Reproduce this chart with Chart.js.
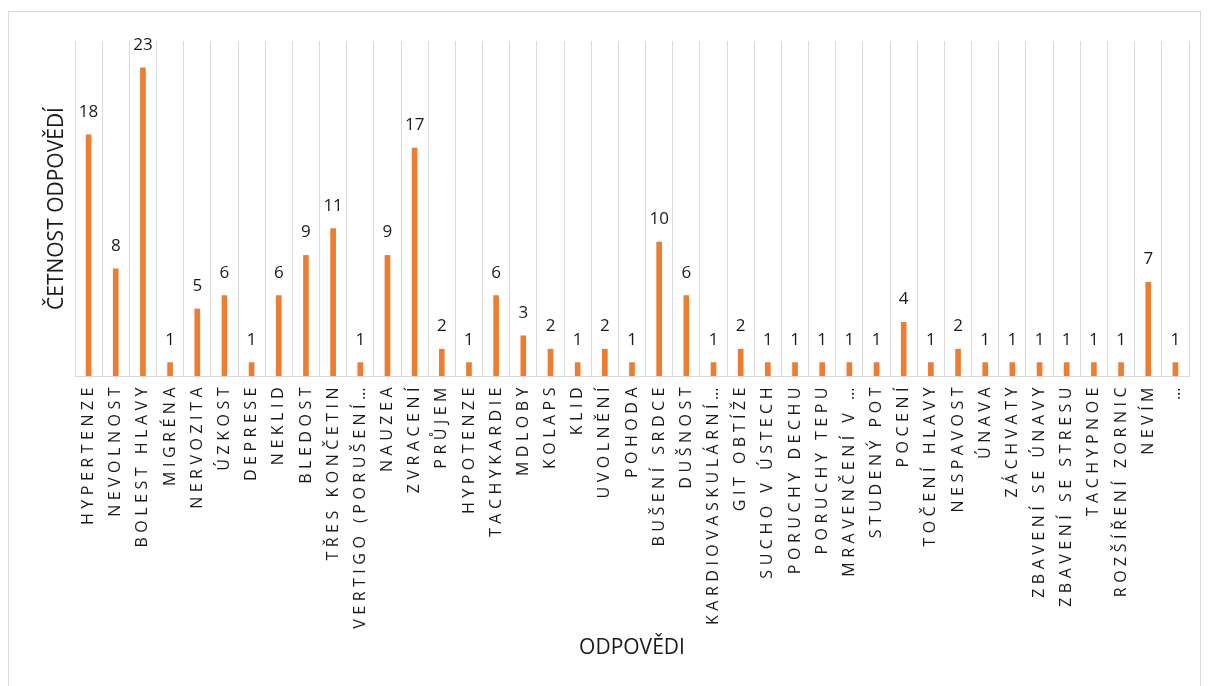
<!DOCTYPE html>
<html>
<head>
<meta charset="utf-8">
<script src="https://cdn.jsdelivr.net/npm/chart.js@4.4.1/dist/chart.umd.min.js"></script>
<style>
  body { margin: 0; background: #fff; }
  #frame { position: absolute; left: 8px; top: 11px; width: 1191px; height: 680px; border: 1px solid #d9d9d9; }
  #wrap { position: absolute; left: 0; top: 0; width: 1208px; height: 686px; }
</style>
</head>
<body>
<div id="frame"></div>
<div id="wrap"><canvas id="odpovedi-chart"></canvas></div>
<script>
// Categories (answers) and how many times each was given
const categories = [
  'HYPERTENZE', 'NEVOLNOST', 'BOLEST HLAVY', 'MIGRÉNA', 'NERVOZITA', 'ÚZKOST', 'DEPRESE',
  'NEKLID', 'BLEDOST', 'TŘES KONČETIN', 'VERTIGO (PORUŠENÍ…', 'NAUZEA', 'ZVRACENÍ', 'PRŮJEM',
  'HYPOTENZE', 'TACHYKARDIE', 'MDLOBY', 'KOLAPS', 'KLID', 'UVOLNĚNÍ', 'POHODA',
  'BUŠENÍ SRDCE', 'DUŠNOST', 'KARDIOVASKULÁRNÍ…', 'GIT OBTÍŽE', 'SUCHO V ÚSTECH', 'PORUCHY DECHU',
  'PORUCHY TEPU', 'MRAVENČENÍ V …', 'STUDENÝ POT', 'POCENÍ', 'TOČENÍ HLAVY', 'NESPAVOST',
  'ÚNAVA', 'ZÁCHVATY', 'ZBAVENÍ SE ÚNAVY', 'ZBAVENÍ SE STRESU', 'TACHYPNOE', 'ROZŠÍŘENÍ ZORNIC',
  'NEVÍM', '…'
];
const counts = [
  18, 8, 23, 1, 5, 6, 1,
  6, 9, 11, 1, 9, 17, 2,
  1, 6, 3, 2, 1, 2, 1,
  10, 6, 1, 2, 1, 1,
  1, 1, 1, 4, 1, 2,
  1, 1, 1, 1, 1, 1,
  7, 1
];
const yAxisTitle = 'ČETNOST ODPOVĚDÍ';
const xAxisTitle = 'ODPOVĚDI';

// Draw the number above every bar
const valueLabels = {
  id: 'valueLabels',
  afterDatasetsDraw(chart) {
    const ctx = chart.ctx;
    const meta = chart.getDatasetMeta(0);
    ctx.save();
    ctx.font = '17px "Open Sans"';
    ctx.fillStyle = '#1a1a1a';
    ctx.textAlign = 'center';
    ctx.textBaseline = 'alphabetic';
    meta.data.forEach((bar, i) => {
      ctx.fillText(counts[i], bar.x, bar.y - 18);
    });
    ctx.restore();
  }
};

// Letter-spaced category labels like in the original
const spacedTicks = {
  id: 'spacedTicks',
  afterUpdate(chart) {
    const s = chart.scales.x;
    if (s._spaced) return;
    const orig = s.drawLabels.bind(s);
    s.drawLabels = function (area) {
      const prev = this.ctx.letterSpacing;
      this.ctx.letterSpacing = '4.5px';
      orig(area);
      this.ctx.letterSpacing = prev;
    };
    s._spaced = true;
  }
};

const odpovediChart = document.getElementById('odpovedi-chart');
new Chart(odpovediChart, {
  type: 'bar',
  data: {
    labels: categories,
    datasets: [
      {
        label: 'Četnost',
        data: counts,
        backgroundColor: '#ed7d31',
        barThickness: 5,
      }
    ]
  },
  options: {
    responsive: true,
    maintainAspectRatio: false,
    animation: false,
    layout: {
      padding: { top: 41, right: 19, bottom: 25, left: 0 }
    },
    plugins: {
      legend: { display: false },
      tooltip: { enabled: false }
    },
    scales: {
      x: {
        grid: { color: '#d9d9d9', drawTicks: false, offset: true },
        border: { color: '#d9d9d9' },
        ticks: {
          autoSkip: false,
          maxRotation: 90,
          minRotation: 90,
          padding: 7,
          color: '#1a1a1a',
          font: { family: 'Open Sans', size: 16 }
        },
        title: {
          display: true,
          text: xAxisTitle,
          color: '#1a1a1a',
          padding: 0,
          font: { family: 'Open Sans', size: 21 }
        },
        afterFit(scale) { scale.height = 285; }
      },
      y: {
        min: 0,
        max: 25,
        grid: { display: false },
        border: { display: false },
        ticks: { display: false },
        title: {
          display: true,
          text: yAxisTitle,
          color: '#1a1a1a',
          padding: { top: 44, bottom: 0 },
          font: { family: 'Open Sans', size: 21 }
        },
        afterFit(scale) { scale.width = 75; }
      }
    }
  },
  plugins: [valueLabels, spacedTicks]
});
</script>
</body>
</html>
